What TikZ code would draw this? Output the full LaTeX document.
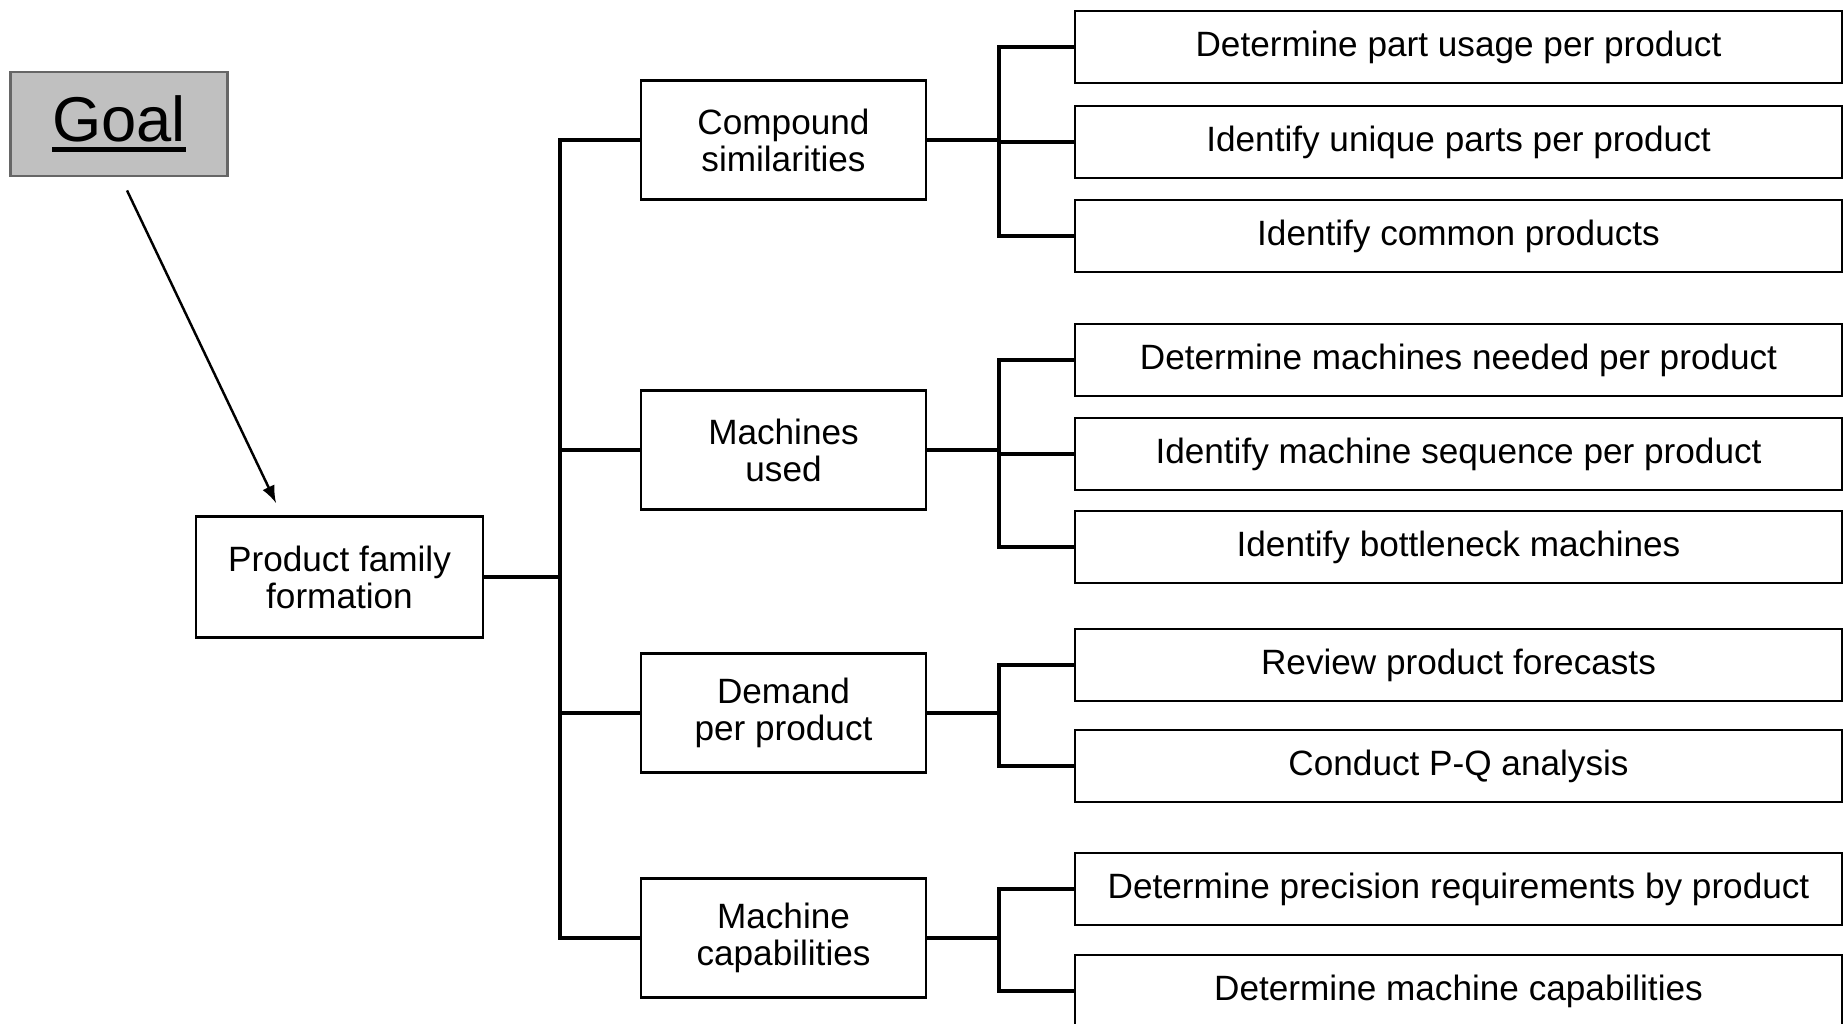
\documentclass[tikz,border=0pt]{standalone}
\usepackage{fontspec}
\setmainfont{Liberation Sans}
\definecolor{goalgray}{RGB}{192,192,192}
\newcommand\goalline[1]{\vtop{\hbox{#1}\kern1.2pt\hrule height 1.5pt}}
\begin{document}
\begin{tikzpicture}[x=0.01cm,y=-0.01cm,
	box/.style={draw,line width=0.6pt,align=center,inner sep=0pt,font=\fontsize{10}{10.5}\selectfont},
	midbox/.style={box,minimum width=2.85cm,minimum height=1.19cm},
	taskbox/.style={box,minimum width=7.67cm,minimum height=0.72cm},
	link/.style={line width=1.1pt}]
	\clip (0,0) rectangle (1848,1024);
	\fill[white] (0,0) rectangle (1848,1024);

	\coordinate (TrunkX)  at (560,0);
	\coordinate (BranchX) at (999,0);

	% goal and top level
	\node[draw=black!60,fill=goalgray,line width=0.8pt,minimum width=2.17cm,minimum height=1.04cm,
		font=\fontsize{18}{18}\selectfont] (Goal) at (119,124) {\goalline{Goal}};
	\node[box,minimum width=2.87cm,minimum height=1.21cm] (Family) at (339.5,577) {Product family\\formation};

	\draw[line width=0.7pt,-latex] ([shift={(8,13)}]Goal.south) -- ([shift={(-63.5,-12.5)}]Family.north);

	% second level
	\node[midbox] (Compound)     at (783.5,140) {Compound\\similarities};
	\node[midbox] (MachinesUsed) at (783.5,450) {Machines\\used};
	\node[midbox] (Demand)       at (783.5,713) {Demand\\per product};
	\node[midbox] (MachineCap)   at (783.5,938) {Machine\\capabilities};

	% third level
	\node[taskbox] (PartUsage)       at (1458.5,47)  {Determine part usage per product};
	\node[taskbox] (UniqueParts)     at (1458.5,142) {Identify unique parts per product};
	\node[taskbox] (CommonProducts)  at (1458.5,236) {Identify common products};
	\node[taskbox] (MachinesNeeded)  at (1458.5,360) {Determine machines needed per product};
	\node[taskbox] (MachineSequence) at (1458.5,454) {Identify machine sequence per product};
	\node[taskbox] (Bottleneck)      at (1458.5,547) {Identify bottleneck machines};
	\node[taskbox] (Forecasts)       at (1458.5,665) {Review product forecasts};
	\node[taskbox] (PQAnalysis)      at (1458.5,766) {Conduct P-Q analysis};
	\node[taskbox] (Precision)       at (1458.5,889) {Determine precision requirements by product};
	\node[taskbox] (Capabilities)    at (1458.5,991) {Determine machine capabilities};

	\foreach \m in {Compound,MachinesUsed,Demand,MachineCap}
		\draw[link] (Family.east) -| (TrunkX |- \m.west) -- (\m.west);

	\foreach \m/\t in {Compound/PartUsage,Compound/UniqueParts,Compound/CommonProducts,
		MachinesUsed/MachinesNeeded,MachinesUsed/MachineSequence,MachinesUsed/Bottleneck,
		Demand/Forecasts,Demand/PQAnalysis,MachineCap/Precision,MachineCap/Capabilities}
		\draw[link] (\m.east) -| (BranchX |- \t.west) -- (\t.west);
\end{tikzpicture}
\end{document}
